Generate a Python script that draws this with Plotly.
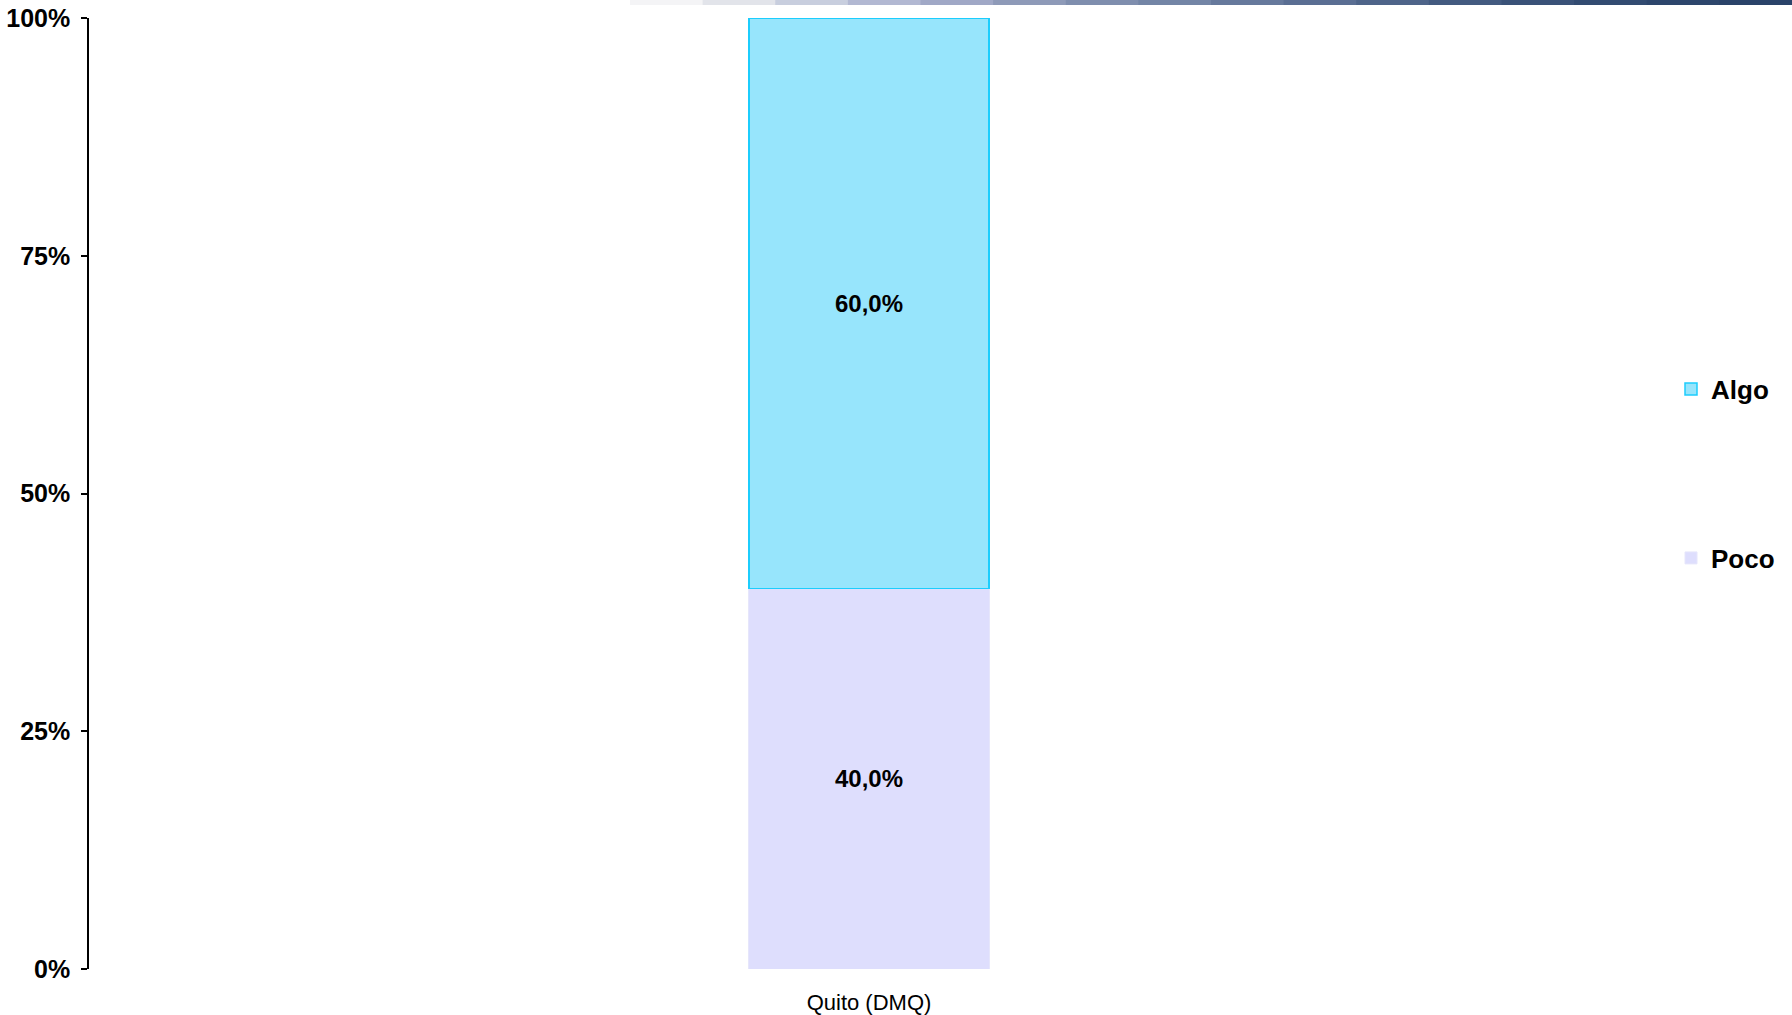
import plotly.graph_objects as go

categories = ["Quito (DMQ)"]
poco_values = [0.40]
algo_values = [0.60]
series_names = ["Poco", "Algo"]
y_tick_vals = [0, 0.25, 0.5, 0.75, 1.0]
y_tick_text = ["0%", "25%", "50%", "75%", "100%"]

FONT = "Liberation Sans, Arial, sans-serif"

fig = go.Figure()
fig.add_trace(go.Bar(
    x=categories, y=poco_values, name=series_names[0],
    marker=dict(color="#dedefd", line=dict(color="#e6e6fb", width=1)),
    texttemplate="<b>%{y:.1%}</b>", textposition="inside",
    insidetextanchor="middle",
    textfont=dict(family=FONT, size=24, color="#000000"),
    legend="legend2",
))
fig.add_trace(go.Bar(
    x=categories, y=algo_values, name=series_names[1],
    marker=dict(color="#97e5fc", line=dict(color="#1ccdfd", width=1.5)),
    texttemplate="<b>%{y:.1%}</b>", textposition="inside",
    insidetextanchor="middle",
    textfont=dict(family=FONT, size=24, color="#000000"),
    legend="legend",
))

# decorative gradient strip at top of the page
strip_colors = ["#f4f4f6", "#e2e4ea", "#c8cede", "#b2b8d2", "#a0a8c6", "#8e9ab8",
                "#7f8eae", "#7385a6", "#66799c", "#5a6e93", "#4e6489", "#435a80",
                "#3a5278", "#324b71", "#2d466c", "#2a4369"]
x_start, x_end = (630 - 89) / 1560, (1792 - 89) / 1560
n = len(strip_colors)
shapes = []
for i, c in enumerate(strip_colors):
    shapes.append(dict(
        type="rect", xref="paper", yref="paper",
        x0=x_start + (x_end - x_start) * i / n,
        x1=x_start + (x_end - x_start) * (i + 1) / n + 0.001,
        y0=(969 - 5) / 951, y1=(969 + 2) / 951,
        fillcolor=c, line=dict(width=0), layer="above",
    ))

fig.update_layout(
    width=1792, height=1015,
    margin=dict(l=89, r=143, t=18, b=46, autoexpand=False),
    paper_bgcolor="white", plot_bgcolor="white",
    barmode="stack", bargap=0.846,
    separators=",.",
    font=dict(family=FONT, color="#000000"),
    shapes=shapes,
    xaxis=dict(
        showline=False, showgrid=False, zeroline=False, ticks="",
        tickfont=dict(family=FONT, size=22, color="#000000"),
        ticklabelstandoff=18, automargin=False,
    ),
    yaxis=dict(
        range=[0, 1], tickvals=y_tick_vals, ticktext=[f"<b>{t}</b>" for t in y_tick_text],
        showline=True, linecolor="#000000", linewidth=1.5,
        ticks="outside", ticklen=6, tickcolor="#000000", tickwidth=1.5,
        showgrid=False, zeroline=False,
        tickfont=dict(family=FONT, size=25, color="#000000"),
        ticklabelstandoff=6, automargin=False,
    ),
    legend=dict(
        x=1671 / 1792, y=1 - 389 / 1015, xref="container", yref="container",
        xanchor="left", yanchor="middle",
        font=dict(family=FONT, size=26, color="#000000"),
        bgcolor="rgba(0,0,0,0)", itemwidth=30,
    ),
    legend2=dict(
        x=1671 / 1792, y=1 - 558 / 1015, xref="container", yref="container",
        xanchor="left", yanchor="middle",
        font=dict(family=FONT, size=26, color="#000000"),
        bgcolor="rgba(0,0,0,0)", itemwidth=30,
    ),
    showlegend=True,
)
fig.update_traces(showlegend=True)
for tr in fig.data:
    tr.name = f"<b>{tr.name}</b>"

fig.write_html(
    "out.html",
    config={"displayModeBar": False},
    post_script="document.body.style.margin='0';document.body.style.overflow='hidden';",
)
